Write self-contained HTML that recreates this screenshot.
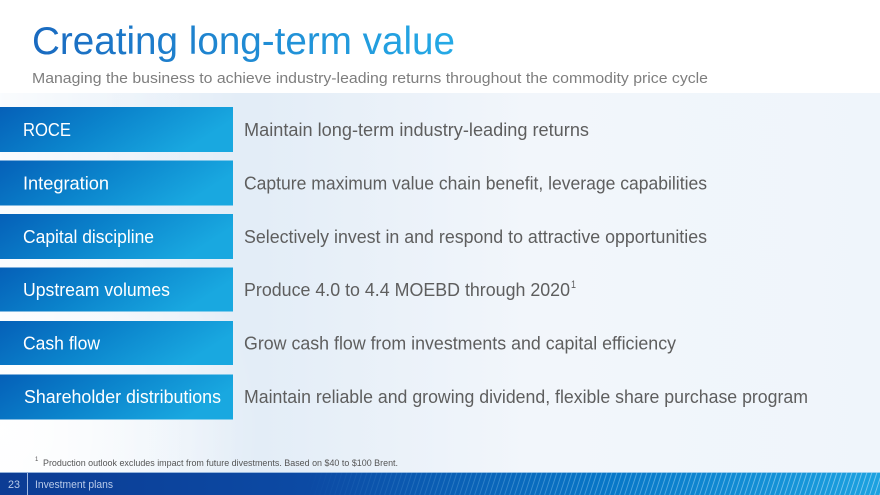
<!DOCTYPE html>
<html><head><meta charset="utf-8"><style>
html,body{margin:0;padding:0;background:#fff;}
svg{display:block;}
</style></head><body>
<svg width="880" height="495" viewBox="0 0 880 495" xmlns="http://www.w3.org/2000/svg" font-family="Liberation Sans, Arial, sans-serif">
<defs>
  <linearGradient id="bg" x1="0" y1="0" x2="880" y2="0" gradientUnits="userSpaceOnUse">
    <stop offset="0" stop-color="#e4eef8"/>
    <stop offset="0.3" stop-color="#e3edf7"/>
    <stop offset="0.6" stop-color="#f2f6fb"/>
    <stop offset="1" stop-color="#eff5fb"/>
  </linearGradient>
  <radialGradient id="wglow" cx="0" cy="430" r="260" gradientUnits="userSpaceOnUse">
    <stop offset="0" stop-color="#ffffff" stop-opacity="0.95"/>
    <stop offset="1" stop-color="#ffffff" stop-opacity="0"/>
  </radialGradient>
  <linearGradient id="lglow" x1="0" y1="0" x2="240" y2="0" gradientUnits="userSpaceOnUse">
    <stop offset="0" stop-color="#ffffff" stop-opacity="0.8"/>
    <stop offset="1" stop-color="#ffffff" stop-opacity="0"/>
  </linearGradient>
  <linearGradient id="bar" x1="0" y1="0" x2="1" y2="0.3">
    <stop offset="0" stop-color="#0560b8"/>
    <stop offset="0.5" stop-color="#0b84cc"/>
    <stop offset="1" stop-color="#19a8e0"/>
  </linearGradient>
  <linearGradient id="title" x1="32" y1="0" x2="455" y2="0" gradientUnits="userSpaceOnUse">
    <stop offset="0" stop-color="#1a6ac0"/>
    <stop offset="1" stop-color="#25aae6"/>
  </linearGradient>
  <linearGradient id="foot" x1="0" y1="0" x2="880" y2="0" gradientUnits="userSpaceOnUse">
    <stop offset="0" stop-color="#0c3c94"/>
    <stop offset="0.35" stop-color="#0c4aa4"/>
    <stop offset="0.7" stop-color="#0878c8"/>
    <stop offset="1" stop-color="#1ca2e0"/>
  </linearGradient>
  <pattern id="stripes" width="5" height="23" patternUnits="userSpaceOnUse" patternTransform="skewX(-18)">
    <rect x="0" y="0" width="0.9" height="23" fill="#9fd6f5"/>
  </pattern>
  <linearGradient id="smask" x1="300" y1="0" x2="880" y2="0" gradientUnits="userSpaceOnUse">
    <stop offset="0" stop-color="#fff" stop-opacity="0"/>
    <stop offset="0.5" stop-color="#fff" stop-opacity="0.45"/>
    <stop offset="1" stop-color="#fff" stop-opacity="0.8"/>
  </linearGradient>
  <mask id="m">
    <rect x="0" y="472" width="880" height="23" fill="url(#smask)"/>
  </mask>
</defs>

<rect x="0" y="0" width="880" height="495" fill="#ffffff"/>
<rect x="0" y="93" width="880" height="379" fill="url(#bg)"/>
<rect x="0" y="93" width="240" height="379" fill="url(#lglow)"/>
<rect x="0" y="93" width="880" height="379" fill="url(#wglow)"/>

<text x="32" y="54" font-size="38.6" fill="url(#title)" textLength="423" lengthAdjust="spacingAndGlyphs">Creating long-term value</text>
<text x="32" y="83" font-size="15" fill="#7e7e7e" textLength="676" lengthAdjust="spacingAndGlyphs">Managing the business to achieve industry-leading returns throughout the commodity price cycle</text>

<g>
  <rect x="0" y="107" width="233" height="45" fill="url(#bar)"/>
  <rect x="0" y="160.5" width="233" height="45" fill="url(#bar)"/>
  <rect x="0" y="214" width="233" height="45" fill="url(#bar)"/>
  <rect x="0" y="267.5" width="233" height="44" fill="url(#bar)"/>
  <rect x="0" y="321" width="233" height="44" fill="url(#bar)"/>
  <rect x="0" y="374.5" width="233" height="45" fill="url(#bar)"/>
</g>

<g font-size="18" fill="#ffffff">
  <text x="23" y="136" textLength="48" lengthAdjust="spacingAndGlyphs">ROCE</text>
  <text x="23" y="189.5" textLength="86" lengthAdjust="spacingAndGlyphs">Integration</text>
  <text x="23" y="243" textLength="131" lengthAdjust="spacingAndGlyphs">Capital discipline</text>
  <text x="23" y="296" textLength="147" lengthAdjust="spacingAndGlyphs">Upstream volumes</text>
  <text x="23" y="349.5" textLength="77" lengthAdjust="spacingAndGlyphs">Cash flow</text>
  <text x="24" y="403" textLength="197" lengthAdjust="spacingAndGlyphs">Shareholder distributions</text>
</g>

<g font-size="18" fill="#5e5e5e">
  <text x="244" y="136" textLength="345" lengthAdjust="spacingAndGlyphs">Maintain long-term industry-leading returns</text>
  <text x="244" y="189.5" textLength="463" lengthAdjust="spacingAndGlyphs">Capture maximum value chain benefit, leverage capabilities</text>
  <text x="244" y="243" textLength="463" lengthAdjust="spacingAndGlyphs">Selectively invest in and respond to attractive opportunities</text>
  <text x="244" y="296" textLength="326" lengthAdjust="spacingAndGlyphs">Produce 4.0 to 4.4 MOEBD through 2020</text>
  <text x="571" y="288" font-size="11" textLength="5" lengthAdjust="spacingAndGlyphs">1</text>
  <text x="244" y="349.5" textLength="432" lengthAdjust="spacingAndGlyphs">Grow cash flow from investments and capital efficiency</text>
  <text x="244" y="403" textLength="564" lengthAdjust="spacingAndGlyphs">Maintain reliable and growing dividend, flexible share purchase program</text>
</g>

<text x="35" y="461" font-size="6" fill="#555">1</text>
<text x="43" y="466" font-size="9" fill="#555" textLength="355" lengthAdjust="spacingAndGlyphs">Production outlook excludes impact from future divestments. Based on $40 to $100 Brent.</text>

<rect x="0" y="472" width="880" height="23" fill="url(#foot)"/>
<rect x="0" y="472" width="880" height="23" fill="url(#stripes)" mask="url(#m)"/>
<rect x="0" y="472" width="880" height="1" fill="#cfe4f6" opacity="0.7"/>
<rect x="27" y="473" width="1" height="22" fill="#9fb8e0"/>
<text x="8" y="488" font-size="11" fill="#b9cbea" textLength="12" lengthAdjust="spacingAndGlyphs">23</text>
<text x="35" y="488" font-size="11" fill="#b9cbea" textLength="78" lengthAdjust="spacingAndGlyphs">Investment plans</text>
</svg>
</body></html>
